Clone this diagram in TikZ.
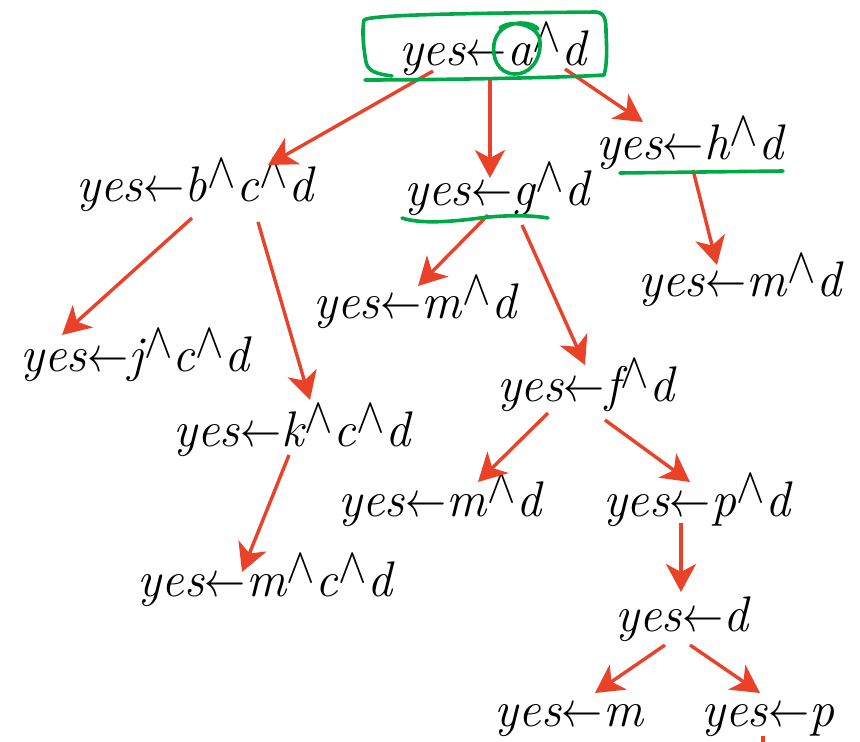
\RequirePackage{fix-cm}
\documentclass[tikz,border=0pt]{standalone}
\usepackage{graphicx}
\newcommand\myleftarr{\kern0.5pt\scalebox{0.82}[1.0]{$\leftarrow$}\kern0.5pt}
\newcommand\mycaret{\kern0.5pt\raisebox{0.27em}{\scalebox{0.85}[1.0]{$\wedge$}}\kern0.5pt}
\usetikzlibrary{arrows.meta}
\definecolor{arrred}{RGB}{234,66,40}
\definecolor{mkgreen}{RGB}{0,168,72}
\tikzset{
  lbl/.style={anchor=base, inner sep=0pt, font=\fontsize{50}{60}\selectfont\itshape},
  arr/.style={draw=arrred, line width=3.4pt, -{Stealth[length=28pt, width=30pt, inset=8pt]}},
  greenmark/.style={draw=mkgreen, line width=3.6pt, line cap=round, line join=round}
}
\begin{document}
\begin{tikzpicture}[x=1pt,y=-1pt]
\useasboundingbox (0,0) rectangle (860,742);
% nodes
\node[lbl] (a)   at (493,65)  {yes\myleftarr a\mycaret d};
\node[lbl] (b)   at (195,201) {yes\myleftarr b\mycaret c\mycaret d};
\node[lbl] (g)   at (497,205) {yes\myleftarr g\mycaret d};
\node[lbl] (h)   at (690,159) {yes\myleftarr h\mycaret d};
\node[lbl] (mr)  at (740,296) {yes\myleftarr m\mycaret d};
\node[lbl] (mm)  at (415,318) {yes\myleftarr m\mycaret d};
\node[lbl] (j)   at (135,371) {yes\myleftarr j\mycaret c\mycaret d};
\node[lbl] (f)   at (586,401) {yes\myleftarr f\mycaret d};
\node[lbl] (k)   at (292,446) {yes\myleftarr k\mycaret c\mycaret d};
\node[lbl] (mf)  at (440,516) {yes\myleftarr m\mycaret d};
\node[lbl] (p)   at (697,516) {yes\myleftarr p\mycaret d};
\node[lbl] (mk)  at (265,596) {yes\myleftarr m\mycaret c\mycaret d};
\node[lbl] (d)   at (682,631) {yes\myleftarr d};
\node[lbl] (m)   at (569,726) {yes\myleftarr m};
\node[lbl] (pp)  at (768,726) {yes\myleftarr p};
% connectors
\draw[arr] ([shift={(-60,6)}]a.base) -- ([shift={(73,-36)}]b.base);
\draw[arr] ([shift={(-3,13)}]a.base) -- ([shift={(-7,-27)}]g.base);
\draw[arr] ([shift={(72,4)}]a.base) -- ([shift={(-47,-37)}]h.base);
\draw[arr] ([shift={(-3,17)}]b.base) -- ([shift={(-73,-36)}]j.base);
\draw[arr] ([shift={(63,21)}]b.base) -- ([shift={(18,-46)}]k.base);
\draw[arr] ([shift={(-9,10)}]g.base) -- ([shift={(3,-32)}]mm.base);
\draw[arr] ([shift={(25,20)}]g.base) -- ([shift={(-1,-36)}]f.base);
\draw[arr] ([shift={(3,11)}]h.base) -- ([shift={(-23,-31)}]mr.base);
\draw[arr] ([shift={(-3,9)}]k.base) -- ([shift={(-23,-24)}]mk.base);
\draw[arr] ([shift={(-38,12)}]f.base) -- ([shift={(38,-34)}]mf.base);
\draw[arr] ([shift={(19,19)}]f.base) -- ([shift={(-7,-34)}]p.base);
\draw[arr] ([shift={(-16,7)}]p.base) -- ([shift={(-1,-39)}]d.base);
\draw[arr] ([shift={(-17,14)}]d.base) -- ([shift={(26,-33)}]m.base);
\draw[arr] ([shift={(8,14)}]d.base) -- ([shift={(-8,-33)}]pp.base);
% cut-off red mark at the bottom
\coordinate (tick) at (763,736);
\draw[draw=arrred, line width=3.4pt] (tick) -- ++(0,8);
% green hand-drawn marks
\draw[greenmark] (392,76) .. controls (378,74) and (368,72) .. (366,62)
  .. controls (363,45) and (362,30) .. (364,20)
  .. controls (370,14) and (500,13) .. (596,12)
  .. controls (605,13) and (606,20) .. (606,32)
  .. controls (607,50) and (607,66) .. (604,75)
  .. controls (560,78) and (420,80) .. (365,80);
\draw[greenmark] (500,28) .. controls (512,18) and (540,26) .. (540,42)
  .. controls (541,62) and (528,75) .. (514,74)
  .. controls (498,73) and (492,58) .. (494,44)
  .. controls (496,32) and (505,24) .. (520,23)
  .. controls (530,23) and (536,26) .. (538,29);
\draw[greenmark] (620,173) -- (783,171);
\draw[greenmark] (402,218) .. controls (420,224) and (450,222) .. (480,218)
  .. controls (505,215) and (530,215) .. (548,218);
\end{tikzpicture}
\end{document}
